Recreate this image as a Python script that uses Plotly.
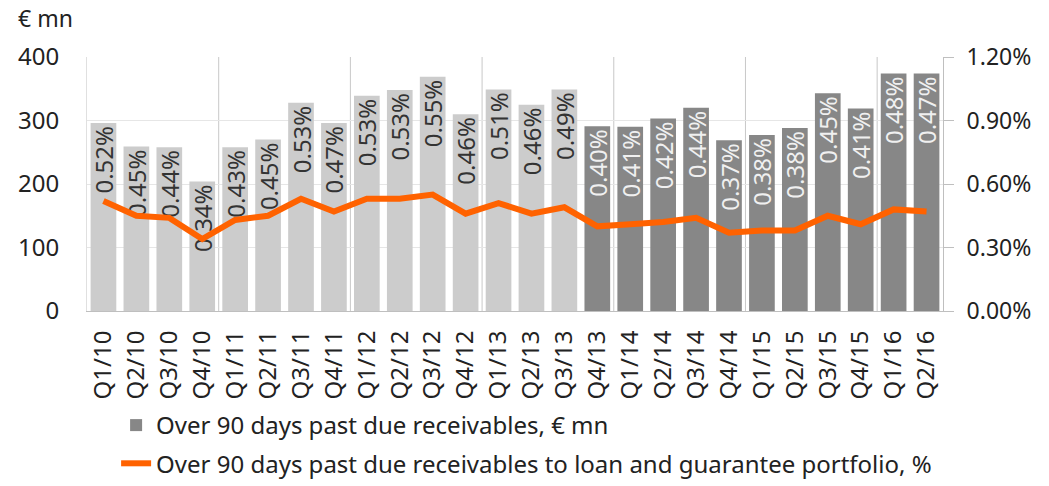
import plotly.graph_objects as go

# Datos
quarters = ['Q1/10', 'Q2/10', 'Q3/10', 'Q4/10', 'Q1/11', 'Q2/11', 'Q3/11', 'Q4/11',
            'Q1/12', 'Q2/12', 'Q3/12', 'Q4/12', 'Q1/13', 'Q2/13', 'Q3/13', 'Q4/13',
            'Q1/14', 'Q2/14', 'Q3/14', 'Q4/14', 'Q1/15', 'Q2/15', 'Q3/15', 'Q4/15',
            'Q1/16', 'Q2/16']
receivables = [296, 259, 258, 204, 258, 270, 328, 296,
               339, 348, 369, 310, 349, 325, 349, 291,
               290, 303, 320, 269, 277, 288, 343, 319,
               374, 374]
ratio_pct = [0.52, 0.45, 0.44, 0.34, 0.43, 0.45, 0.53, 0.47,
             0.53, 0.53, 0.55, 0.46, 0.51, 0.46, 0.49, 0.40,
             0.41, 0.42, 0.44, 0.37, 0.38, 0.38, 0.45, 0.41,
             0.48, 0.47]
n_light = 15  # Q1/10 .. Q3/13 en gris claro

FONT = 'Noto Sans, Open Sans, sans-serif'
LIGHT = '#cccccc'
DARK = '#878787'
ORANGE = '#ff6200'

labels = [f"{v:.2f}%" for v in ratio_pct]
ratio = [v / 100 for v in ratio_pct]

fig = go.Figure()

# Barras claras (sin leyenda)
fig.add_trace(go.Bar(
    x=quarters[:n_light], y=receivables[:n_light],
    marker=dict(color=LIGHT, line=dict(width=0)),
    text=labels[:n_light], textposition='inside', insidetextanchor='end',
    textangle=-90, constraintext='none',
    textfont=dict(family=FONT, size=24, color='#333333'),
    showlegend=False, hoverinfo='skip'
))

# Barras oscuras
fig.add_trace(go.Bar(
    x=quarters[n_light:], y=receivables[n_light:],
    name='Over 90 days past due receivables, € mn',
    legendgroup='a',
    marker=dict(color=DARK, line=dict(width=0)),
    text=labels[n_light:], textposition='inside', insidetextanchor='end',
    textangle=-90, constraintext='none',
    textfont=dict(family=FONT, size=24, color='#f0f0f0'),
))

# Linea de ratio
fig.add_trace(go.Scatter(
    x=quarters, y=ratio, yaxis='y2', mode='lines',
    name='Over 90 days past due receivables to loan and guarantee portfolio, %',
    legendgroup='b',
    line=dict(color=ORANGE, width=6),
))

# Lineas verticales entre anos
for i in range(1, len(quarters)):
    if quarters[i][-2:] != quarters[i - 1][-2:]:
        fig.add_shape(type='line', xref='x', yref='paper',
                      x0=i - 0.5, x1=i - 0.5, y0=0, y1=1,
                      line=dict(color='#c8c8c8', width=1), layer='below')

fig.update_layout(
    width=1049, height=486,
    plot_bgcolor='white', paper_bgcolor='white',
    font=dict(family=FONT, size=21, color='#222222'),
    barmode='overlay', bargap=0.22,
    margin=dict(l=87, r=106, t=57, b=175, autoexpand=False),
    showlegend=True,
    legend=dict(orientation='v', x=0.034, xanchor='left',
                yref='container', y=0, yanchor='bottom',
                font=dict(size=24), bgcolor='rgba(0,0,0,0)', itemwidth=30,
                tracegroupgap=4),
    xaxis=dict(categoryorder='array', categoryarray=quarters, tickangle=-90,
               showline=True, linecolor='#bfbfbf', showgrid=False,
               tickfont=dict(size=24), ticklabelstandoff=9,
               range=[-0.5, len(quarters) - 0.5]),
    yaxis=dict(range=[0, 400], dtick=100, showgrid=True, gridcolor='#e6e6e6',
               showline=True, linecolor='#e0e0e0', zeroline=False,
               tickfont=dict(size=24), ticklen=0, ticklabelstandoff=22),
    yaxis2=dict(range=[0, 0.012], dtick=0.003, tickformat='.2%', overlaying='y',
                side='right', showgrid=False, showline=True, linecolor='#bfbfbf',
                ticks='outside', ticklen=10, tickcolor='#bfbfbf',
                ticklabelstandoff=8,
                tickfont=dict(size=23), zeroline=False),
    annotations=[dict(text='€ mn', xref='paper', yref='paper', x=-0.083, y=1.154,
                      xanchor='left', yanchor='middle', showarrow=False,
                      font=dict(size=23))],
)

# Quitar el margen del body para que la figura quede en (0, 0)
fig.write_html("out.html", config={'displayModeBar': False},
               post_script="document.body.style.margin='0px';")
